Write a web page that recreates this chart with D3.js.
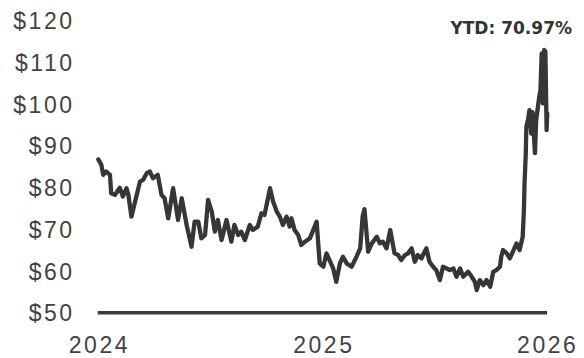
<!DOCTYPE html>
<html>
<head>
<meta charset="utf-8">
<script src="https://cdn.jsdelivr.net/npm/d3@7"></script>
<style>
  body { margin: 0; background: #fff; }
  .tick text { font-family: "Liberation Sans", Arial, Helvetica, sans-serif; font-size: 23px; fill: #424242; letter-spacing: 2.5px; }
  .ytd { font-family: "DejaVu Sans", sans-serif; font-weight: bold; font-size: 17px; fill: #333; }
</style>
</head>
<body>
<div id="chart"></div>
<script>

// price series
var dates = ["2024-01-02","2024-01-07","2024-01-10","2024-01-15","2024-01-21","2024-01-23","2024-01-29","2024-02-06","2024-02-11","2024-02-17",
  "2024-02-20","2024-02-25","2024-03-02","2024-03-10","2024-03-15","2024-03-21","2024-03-26","2024-03-31","2024-04-08","2024-04-14",
  "2024-04-19","2024-04-25","2024-05-03","2024-05-11","2024-05-17","2024-05-25","2024-06-02","2024-06-07","2024-06-13","2024-06-18",
  "2024-06-24","2024-06-29","2024-07-05","2024-07-10","2024-07-15","2024-07-21","2024-07-29","2024-08-06","2024-08-11","2024-08-17",
  "2024-08-22","2024-08-28","2024-09-05","2024-09-10","2024-09-18","2024-09-24","2024-09-29","2024-10-08","2024-10-13","2024-10-19",
  "2024-10-24","2024-10-29","2024-11-04","2024-11-09","2024-11-12","2024-11-17","2024-11-23","2024-11-28","2024-12-04","2024-12-12",
  "2024-12-23","2024-12-28",
  "2025-01-03","2025-01-08","2025-01-13","2025-01-19","2025-01-24","2025-01-30","2025-02-04","2025-02-10","2025-02-18","2025-02-26",
  "2025-03-04","2025-03-08","2025-03-11","2025-03-17","2025-03-23","2025-03-31","2025-04-05","2025-04-10","2025-04-16","2025-04-22",
  "2025-04-29","2025-05-05","2025-05-10","2025-05-16","2025-05-21","2025-05-27","2025-06-01","2025-06-06","2025-06-12","2025-06-17",
  "2025-06-20","2025-06-25","2025-07-01","2025-07-06","2025-07-12","2025-07-17","2025-07-23","2025-07-28","2025-08-03","2025-08-08",
  "2025-08-14","2025-08-19","2025-08-27","2025-09-02","2025-09-07","2025-09-10","2025-09-15","2025-09-21","2025-09-26","2025-10-02",
  "2025-10-07","2025-10-12","2025-10-18","2025-10-20","2025-10-23","2025-10-29","2025-11-03","2025-11-08","2025-11-14","2025-11-19",
  "2025-11-24","2025-11-26","2025-11-27","2025-11-29","2025-11-30","2025-12-03","2025-12-05","2025-12-08","2025-12-10","2025-12-14",
  "2025-12-16","2025-12-21","2025-12-23","2025-12-25","2025-12-27","2025-12-29","2025-12-31","2026-01-02","2026-01-03"];

var prices = [86.7,85.4,83.0,83.8,83.0,78.6,78.2,79.9,77.8,79.8,
  78.2,73.0,76.6,81.4,81.8,83.4,83.8,82.2,83.0,78.2,
  77.4,72.6,79.8,72.2,77.4,71.0,65.8,71.8,71.8,67.8,
  68.6,77.0,74.2,69.4,72.2,67.4,72.2,67.0,71.0,68.6,
  69.4,67.4,71.0,69.8,70.6,73.8,73.4,79.8,76.6,74.2,
  73.0,71.0,73.0,70.6,72.6,69.8,68.6,66.2,67.0,67.8,
  71.8,61.8,
  61.0,64.2,62.6,60.6,57.4,61.8,63.4,61.8,61.0,63.4,
  65.4,73.0,74.8,64.6,66.6,68.2,66.6,67.0,65.4,69.8,
  64.2,63.8,62.6,63.8,64.2,65.4,62.2,63.8,63.0,64.6,
  65.4,62.2,61.0,60.2,57.8,61.0,60.6,60.2,60.6,58.6,
  60.6,58.6,59.8,58.6,57.4,55.4,57.8,56.6,57.8,56.2,
  59.8,60.2,61.0,63.4,65.0,64.2,63.0,64.6,66.6,65.0,
  68.2,74.6,81.0,88.0,94.5,96.5,98.5,92.9,98.0,88.2,
  96.1,101.7,103.3,112.1,100.1,112.9,112.5,93.7,97.7];

var yTicks = [50, 60, 70, 80, 90, 100, 110, 120];
var xTicks = ["2024-01-01", "2025-01-01", "2026-01-01"];
var ytdLabel = "YTD: 70.97%";

var width = 584, height = 358;
var margin = {top: 20.3, right: 38, bottom: 45.3, left: 97.7};

var parse = d3.timeParse("%Y-%m-%d");
var data = dates.map(function(d, i) { return {date: parse(d), price: prices[i]}; });

var x = d3.scaleTime()
    .domain([parse(xTicks[0]), parse(xTicks[2])])
    .range([margin.left, width - margin.right]);

var y = d3.scaleLinear()
    .domain([50, 120])
    .range([height - margin.bottom, margin.top]);

var svg = d3.select("#chart")
    .append("svg")
    .attr("width", width)
    .attr("height", height);

// y axis labels, no domain line
svg.append("g")
    .attr("transform", "translate(74.5,0)")
    .call(d3.axisLeft(y).tickValues(yTicks).tickSize(0).tickPadding(0)
        .tickFormat(function(d) { return "$" + d; }))
    .call(function(g) { g.select(".domain").remove(); })
    .selectAll("text")
    .attr("dy", null)
    .attr("y", 8.2);

// x axis labels (kept just inside the bottom edge)
svg.append("g")
    .attr("transform", "translate(1.2," + 352.5 + ")")
    .call(d3.axisBottom(x).tickValues(xTicks.map(parse)).tickSize(0).tickPadding(0)
        .tickFormat(d3.timeFormat("%Y")))
    .call(function(g) { g.select(".domain").remove(); })
    .selectAll("text")
    .attr("dy", null)
    .attr("y", 0);

// baseline at $50
svg.append("line")
    .attr("x1", x(parse(xTicks[0])))
    .attr("x2", x(parse(xTicks[2])) + 1)
    .attr("y1", y(50))
    .attr("y2", y(50))
    .attr("stroke", "#3a3a3a")
    .attr("stroke-width", 3.5);

var line = d3.line()
    .x(function(d) { return x(d.date); })
    .y(function(d) { return y(d.price); });

svg.append("path")
    .datum(data)
    .attr("fill", "none")
    .attr("stroke", "#363636")
    .attr("stroke-width", 4.3)
    .attr("stroke-linejoin", "round")
    .attr("stroke-linecap", "round")
    .attr("d", line);

svg.append("text")
    .attr("class", "ytd")
    .attr("x", 572)
    .attr("y", 33.5)
    .attr("text-anchor", "end")
    .text(ytdLabel);

</script>
</body>
</html>
